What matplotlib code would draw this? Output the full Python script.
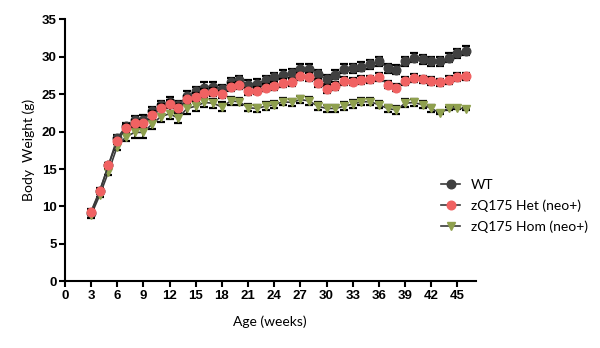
import numpy as np
import matplotlib.pyplot as plt

# ---------------- data ----------------
weeks = list(range(3, 47))

wt = [9.1, 12.0, 15.5, 19.1, 20.7, 21.5, 21.6, 22.7, 23.5, 24.0, 23.5, 24.8,
      25.4, 25.9, 26.0, 25.7, 26.6, 26.9, 26.3, 26.4, 26.9, 27.3, 27.6, 27.8,
      28.4, 28.4, 27.7, 27.0, 27.6, 28.4, 28.5, 28.7, 29.0, 29.4, 28.5, 28.3,
      29.4, 29.9, 29.7, 29.4, 29.4, 29.9, 30.5, 30.8]
wt_err = [0.3, 0.3, 0.3, 0.4, 0.5, 0.6, 0.6, 0.6, 0.6, 0.6, 0.6, 0.6,
          0.6, 0.7, 0.7, 0.6, 0.6, 0.6, 0.6, 0.6, 0.6, 0.6, 0.6, 0.6,
          0.6, 0.6, 0.6, 0.6, 0.6, 0.6, 0.6, 0.6, 0.6, 0.6, 0.6, 0.6,
          0.6, 0.6, 0.6, 0.6, 0.6, 0.6, 0.6, 0.6]

het = [9.3, 12.1, 15.5, 18.7, 20.5, 21.1, 21.1, 22.2, 23.2, 23.7, 23.2, 24.3,
       24.7, 25.2, 25.3, 25.0, 26.0, 26.2, 25.4, 25.5, 25.9, 26.1, 26.5, 26.6,
       27.4, 27.3, 26.5, 25.7, 26.1, 26.8, 26.7, 26.9, 27.0, 27.3, 26.3, 25.9,
       26.8, 27.2, 27.0, 26.8, 26.6, 26.9, 27.3, 27.4]
het_err = [0.3, 0.3, 0.3, 0.4, 0.5, 0.5, 0.5, 0.5, 0.5, 0.5, 0.5, 0.5,
           0.5, 0.5, 0.5, 0.5, 0.5, 0.5, 0.5, 0.5, 0.5, 0.5, 0.5, 0.5,
           0.5, 0.5, 0.5, 0.5, 0.5, 0.5, 0.5, 0.5, 0.5, 0.5, 0.5, 0.5,
           0.5, 0.5, 0.5, 0.5, 0.5, 0.5, 0.5, 0.5]

hom = [8.8, 11.5, 14.6, 18.0, 19.3, 19.9, 19.9, 21.0, 22.0, 22.4, 21.8, 23.1,
       23.4, 23.9, 23.8, 23.3, 24.1, 24.0, 23.2, 23.1, 23.4, 23.6, 24.0, 23.9,
       24.3, 24.1, 23.4, 23.1, 23.1, 23.4, 23.7, 24.0, 24.0, 23.6, 23.1, 22.9,
       23.8, 23.9, 23.6, 23.1, 22.5, 23.1, 23.2, 23.0]
hom_err = [0.3, 0.3, 0.4, 0.5, 0.6, 0.7, 0.7, 0.7, 0.7, 0.7, 0.7, 0.7,
           0.6, 0.6, 0.6, 0.6, 0.5, 0.5, 0.5, 0.5, 0.5, 0.5, 0.5, 0.5,
           0.5, 0.5, 0.5, 0.5, 0.5, 0.5, 0.5, 0.5, 0.5, 0.5, 0.5, 0.5,
           0.5, 0.5, 0.5, 0.5, 0.1, 0.2, 0.2, 0.1]

labels = ["WT", "zQ175 Het (neo+)", "zQ175 Hom (neo+)"]
x_ticks = list(range(0, 46, 3))
y_ticks = list(range(0, 36, 5))

# ---------------- plot ----------------
fig = plt.figure(figsize=(6, 3.48), dpi=100)
ax = fig.add_axes([0.108, 0.192, 0.685, 0.752])

line_col = "#3a3a3a"
series = [
    (wt, wt_err, "o", "#404040", labels[0], 3),
    (hom, hom_err, "v", "#8fa04e", labels[2], 4),
    (het, het_err, "o", "#f06262", labels[1], 5),
]
handles = {}
for vals, err, mk, col, lab, z in series:
    ax.errorbar(weeks, vals, yerr=err, fmt="none", ecolor="black",
                elinewidth=1.3, capsize=3, capthick=1.6, zorder=z)
    h, = ax.plot(weeks, vals, color=line_col, lw=1.2, marker=mk, ms=6.2,
                 markerfacecolor=col, markeredgecolor=col, label=lab, zorder=z + 0.5)
    handles[lab] = h

ax.set_xlim(0, 47.1)
ax.set_ylim(0, 35)
ax.set_xticks(x_ticks)
ax.set_yticks(y_ticks)
for s in ["top", "right"]:
    ax.spines[s].set_visible(False)
for s in ["left", "bottom"]:
    ax.spines[s].set_linewidth(1.5)
ax.tick_params(width=1.5, length=4, labelsize=9.5, pad=2)
for t in ax.get_xticklabels() + ax.get_yticklabels():
    t.set_fontweight("bold")
    t.set_family("Liberation Sans")

ax.set_xlabel("Age (weeks)", family="Lato", fontsize=10, labelpad=10)
ax.set_ylabel("Body  Weight (g)", family="Lato", fontsize=10, labelpad=5)

leg = fig.legend([handles[l] for l in labels], labels, loc="upper left",
                 bbox_to_anchor=(434 / 600, 1 - 172 / 348), frameon=False,
                 prop={"family": "Lato", "size": 10}, borderpad=0,
                 handlelength=1.4, handletextpad=0.75, labelspacing=0.6)

plt.savefig("out.png", dpi=100)
